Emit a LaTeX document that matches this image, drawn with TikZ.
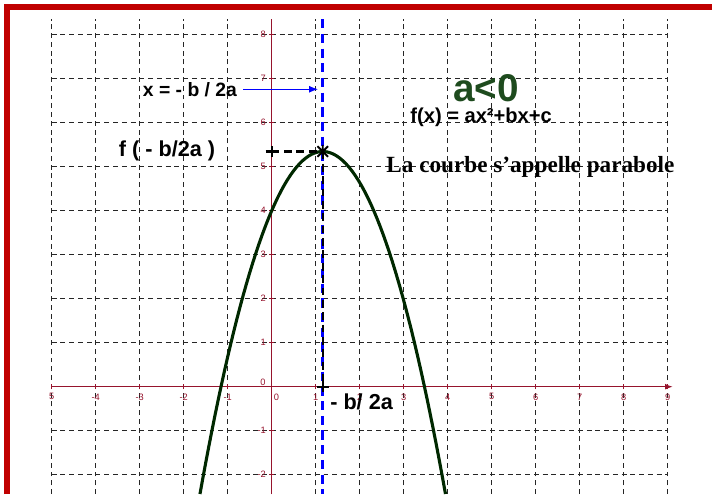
\documentclass[tikz,border=0pt]{standalone}
\usepackage{fontspec}
\setmainfont{Liberation Sans}
\newfontfamily\timesfont{Liberation Serif}
\usetikzlibrary{arrows.meta,positioning}
\definecolor{axisred}{RGB}{150,20,45}
\definecolor{framered}{RGB}{192,0,0}
\definecolor{curvegreen}{RGB}{0,40,0}
\definecolor{signgreen}{RGB}{30,75,30}
\definecolor{vblue}{RGB}{0,0,255}

\begin{document}
\begin{tikzpicture}[
  gridline/.style={black!85, line width=0.8pt, dash pattern=on 3.2pt off 2.47pt},
  axis/.style={axisred, line width=0.9pt},
  ticklbl/.style={font=\fontsize{6}{6}\selectfont, text=axisred, inner sep=1pt},
  lbl/.style={font=\fontsize{13}{15}\selectfont\bfseries, inner sep=0pt},
  guide/.style={black, line width=1.5pt, dash pattern=on 5pt off 3pt},
  marker/.style={black, line width=1.5pt},
  arr/.style={-{Latex[length=6pt]}, vblue, line width=0.9pt}
]
  \useasboundingbox (-6.175,-2.439) rectangle (10.007,8.789);

  % cadre
  \draw[framered, line width=3.9pt] (-6.016,-2.439) -- (-6.016,8.63) -- (10.007,8.63);

  % quadrillage
  \foreach \x in {-5,...,9}
    \draw[gridline] (\x,-2.439) -- (\x,8.354);
  \foreach \y in {-2,...,8}
    \draw[gridline] (-5,\y) -- (9,\y);

  % axes
  \draw[axis, -{Latex[length=5pt]}] (-5,0) -- (9.12,0);
  \draw[axis] (0,-2.439) -- (0,8.354);
  \foreach \x in {-5,...,9}
    \draw[axis, line width=0.6pt] (\x,-0.06) -- (\x,0.06);
  \foreach \y in {-2,...,8}
    \draw[axis, line width=0.6pt] (-0.06,\y) -- (0.06,\y);
  \foreach \x/\t in {-5/5,-4/-4,-3/-3,-2/-2,-1/-1,1/1,2/2,3/3,4/4,5/5,6/6,7/7,8/8,9/9}
    \node[ticklbl] (tx\x) at (\x,-0.23) {\t};
  \node[ticklbl] (tx0) at (0.11,-0.23) {0};
  \foreach \y in {-2,-1,1,2,3,4,5,6,7,8}
    \node[ticklbl, anchor=east] (ty\y) at (-0.09,\y) {\y};
  \node[ticklbl] (ty0) at (-0.2,0.11) {0};

  % parabole
  \draw[curvegreen, line width=2pt, domain=-1.63:3.95, samples=80]
    plot (\x,{-\x*\x+2.32*\x+4});

  \coordinate (top) at (1.16,5.346);
  \coordinate (yax) at (0,5.346);
  \coordinate (xax) at (1.16,0);
  \coordinate (bluetop) at (1.16,8.354);
  \coordinate (bluebot) at (1.16,-2.439);

  \draw[vblue, line width=2pt, dash pattern=on 6pt off 3.5pt] (bluetop) -- (bluebot);
  \draw[guide] (yax) -- (top);
  \draw[guide] (top) -- (xax);

  \draw[marker] (yax) +(-0.14,0) -- +(0.14,0) (yax) +(0,-0.13) -- +(0,0.13);
  \draw[marker] (xax) +(-0.14,0) -- +(0.14,0) (xax) +(0,-0.13) -- +(0,0.13);
  \draw[marker, line width=1.2pt] (top) +(-0.12,-0.12) -- +(0.12,0.12)
    (top) +(-0.12,0.12) -- +(0.12,-0.12) (top) +(0,-0.15) -- +(0,0.15);

  % textes
  \node[lbl, font=\fontsize{12.5}{14}\selectfont\bfseries] (lblaxe) at (-1.857,6.76) {x = - b / 2a};
  \coordinate (axehit) at (1.06,6.76);
  \draw[arr, shorten <=4pt] (lblaxe.east) -- (axehit);

  \node[lbl, font=\fontsize{14}{16}\selectfont\bfseries] (lblsommet) at (-2.38,5.36) {f ( - b/2a )};
  \node[lbl, font=\fontsize{25}{27}\selectfont\bfseries, text=signgreen] (lblsigne) at (4.87,6.79) {a<0};
  \node[lbl, below=0.12cm of lblsigne, xshift=-0.11cm] (lblforme) {f(x) = ax²+bx+c};
  \node[font=\timesfont\bfseries\fontsize{15}{17}\selectfont, inner sep=0pt] (lblnom) at (5.88,5.0) {La courbe s’appelle parabole};
  \node[lbl, font=\fontsize{14}{16}\selectfont\bfseries, anchor=west] (lblracine) at (1.325,-0.34) {- b/ 2a};
\end{tikzpicture}
\end{document}
